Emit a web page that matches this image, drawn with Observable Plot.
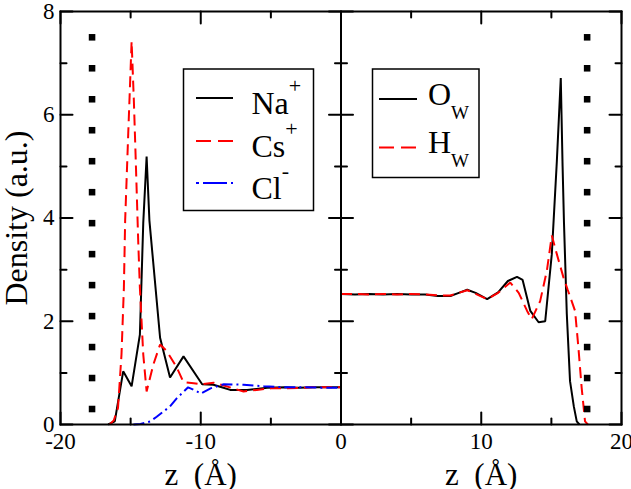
<!DOCTYPE html>
<html><head><meta charset="utf-8">
<script src="https://cdn.jsdelivr.net/npm/d3@7"></script>
<script src="https://cdn.jsdelivr.net/npm/@observablehq/plot@0.6"></script>
<style>
body{margin:0;background:#fff;}
#wrap{position:relative;width:631px;height:489px;overflow:hidden;background:#fff;}
#wrap svg{position:absolute;left:0;top:0;}
#wrap svg, #wrap svg text, #wrap svg tspan{font-family:"Liberation Serif","DejaVu Serif",serif !important;}
</style></head><body><div id="wrap"></div>
<script>
// ---- data ----
const naZ = [-16.6, -16.13, -15.53, -14.93, -14.34, -14.1, -13.86, -13.66, -12.9, -12.19, -11.23, -9.9, -9.1, -8.5, -7.9, -6.7, -5.25, -4.0, -3.0, -2.0, -1.0, 0];
const naV = [0, 0.06, 1.03, 0.74, 1.74, 3.9, 5.19, 3.95, 1.68, 0.91, 1.32, 0.78, 0.77, 0.72, 0.67, 0.67, 0.71, 0.72, 0.71, 0.72, 0.72, 0.72];

const csZ = [-16.5, -16.2, -15.9, -15.65, -15.48, -15.39, -15.17, -14.93, -14.77, -14.62, -14.46, -14.34, -14.1, -13.86, -13.38, -12.9, -12.42, -11.7, -11.23, -10.5, -10.0, -9.08, -8.3, -6.95, -6.0, -5.0, -4.0, -3.0, -2.0, -1.0, 0];
const csV = [0, 0.08, 0.32, 1.36, 2.65, 3.95, 5.64, 7.42, 6.28, 4.99, 3.56, 2.65, 1.36, 0.64, 1.16, 1.55, 1.42, 1.1, 0.82, 0.8, 0.78, 0.81, 0.75, 0.64, 0.67, 0.7, 0.7, 0.71, 0.72, 0.72, 0.72];

const clZ = [-14.8, -14.3, -13.6, -13.14, -12.19, -11.7, -10.9, -10.4, -10.0, -9.3, -8.36, -6.95, -5.5, -4.0, -2.5, -1.0, 0];
const clV = [0, 0.01, 0.06, 0.15, 0.35, 0.51, 0.72, 0.66, 0.6, 0.7, 0.78, 0.77, 0.74, 0.72, 0.72, 0.71, 0.71];

const owZ = [0, 1, 2, 3, 4, 5, 6, 6.9, 7.8, 8.4, 9.0, 9.6, 10.42, 11.2, 11.9, 12.55, 12.95, 13.5, 14.09, 14.56, 15.03, 15.39, 15.67, 15.8, 15.9, 16.1, 16.33, 16.6, 16.81, 17.0];
const owV = [2.53, 2.52, 2.53, 2.52, 2.53, 2.52, 2.52, 2.49, 2.49, 2.55, 2.61, 2.55, 2.43, 2.56, 2.78, 2.86, 2.8, 2.2, 1.98, 2.0, 3.3, 5.1, 6.71, 5.0, 3.9, 2.14, 0.84, 0.35, 0.06, 0];

const hwZ = [0, 1, 2, 3, 4, 5, 6, 6.9, 7.8, 8.4, 9.0, 9.6, 10.42, 11.2, 12.07, 12.67, 13.27, 13.6, 14.2, 14.68, 15.03, 15.39, 15.86, 16.15, 16.69, 16.93, 17.16, 17.4, 17.6];
const hwV = [2.53, 2.53, 2.52, 2.53, 2.52, 2.53, 2.52, 2.5, 2.5, 2.55, 2.6, 2.53, 2.43, 2.55, 2.75, 2.55, 2.2, 2.04, 2.39, 2.98, 3.66, 3.3, 2.85, 2.62, 2.2, 1.48, 0.71, 0.06, 0];

const wallZ = [-17.75, 17.55];
const wallY = [0.3, 0.9, 1.5, 2.1, 2.7, 3.3, 3.9, 4.5, 5.1, 5.7, 6.3, 6.9, 7.5];

const xMajor = [-20, -10, 0, 10, 20];
const xMinor = [-15, -5, 5, 15];
const yMajor = [0, 2, 4, 6, 8];
const yMinor = [1, 3, 5, 7];
const panels = [[-20, 0], [0, 20]];
const panelBorders = [0];

const xTitle = "z\u00a0\u00a0(Å)";
const yTitle = "Density (a.u.)";

const legendLeft = [
  {key: "Na", main: "Na", script: "+"},
  {key: "Cs", main: "Cs", script: "+"},
  {key: "Cl", main: "Cl", script: "-"}
];
const legendRight = [
  {key: "Ow", main: "O", script: "W"},
  {key: "Hw", main: "H", script: "W"}
];

// ---- styles ----
const FONT = '"Liberation Serif","DejaVu Serif",serif';
const styles = {
  Na: {stroke: "#000000", dash: null},
  Cs: {stroke: "#ff0000", dash: "11,6"},
  Cl: {stroke: "#0000ff", dash: "11,4,2,4"},
  Ow: {stroke: "#000000", dash: null},
  Hw: {stroke: "#ff0000", dash: "11,6"}
};

const rows = (z, v) => z.map((d, i) => ({z: d, v: v[i]}));
const series = {Na: rows(naZ, naV), Cs: rows(csZ, csV), Cl: rows(clZ, clV), Ow: rows(owZ, owV), Hw: rows(hwZ, hwV)};
const walls = wallZ.flatMap(z => wallY.map(y => ({z, y})));

const lineMark = k => Plot.line(series[k], {x: "z", y: "v", stroke: styles[k].stroke, strokeWidth: 2,
  strokeDasharray: styles[k].dash || undefined, strokeLinejoin: "miter", strokeLinecap: "butt"});

const tickShape = {draw(context, l) { context.moveTo(0, 0); context.lineTo(0, -l); }};
const vt = (data, opts) => Plot.vector(data, {anchor: "start", shape: tickShape, stroke: "black", strokeWidth: 2, ...opts});
const midMajor = yMajor.flatMap(y => panelBorders.map(b => ({x: b, y})));
const midMinor = yMinor.flatMap(y => panelBorders.map(b => ({x: b, y})));
const titles = panels.map(p => ({x: (p[0] + p[1]) / 2, t: xTitle}));

const chart = Plot.plot({
  width: 631, height: 489,
  marginLeft: 60, marginRight: 10, marginTop: 11, marginBottom: 65,
  x: {domain: [-20, 20], label: null},
  y: {domain: [0, 8], label: null},
  style: {fontFamily: FONT, fontSize: "23px", color: "black", background: "white", overflow: "visible"},
  marks: [
    lineMark("Ow"), lineMark("Hw"),
    lineMark("Na"), lineMark("Cs"), lineMark("Cl"),
    Plot.dot(walls, {x: "z", y: "y", symbol: "square", r: 3.7, fill: "black", stroke: "none"}),
    Plot.frame({stroke: "black", strokeWidth: 2}),
    Plot.ruleX(panelBorders, {stroke: "black", strokeWidth: 2}),
    vt(xMajor, {x: d => d, frameAnchor: "bottom", rotate: 0, length: 12}),
    vt(xMinor, {x: d => d, frameAnchor: "bottom", rotate: 0, length: 6}),
    vt(xMajor, {x: d => d, frameAnchor: "top", rotate: 180, length: 12}),
    vt(xMinor, {x: d => d, frameAnchor: "top", rotate: 180, length: 6}),
    vt(yMajor, {y: d => d, frameAnchor: "left", rotate: 90, length: 12}),
    vt(yMinor, {y: d => d, frameAnchor: "left", rotate: 90, length: 6}),
    vt(yMajor, {y: d => d, frameAnchor: "right", rotate: -90, length: 12}),
    vt(yMinor, {y: d => d, frameAnchor: "right", rotate: -90, length: 6}),
    vt(midMajor, {x: "x", y: "y", rotate: 90, length: 12}),
    vt(midMajor, {x: "x", y: "y", rotate: -90, length: 12}),
    vt(midMinor, {x: "x", y: "y", rotate: 90, length: 6}),
    vt(midMinor, {x: "x", y: "y", rotate: -90, length: 6}),
    Plot.axisX(xMajor, {tickSize: 0, tickPadding: 8, tickFormat: d => String(d), label: null}),
    Plot.axisY(yMajor, {tickSize: 0, tickPadding: 6, tickFormat: d => String(d), label: null}),
    Plot.text([yTitle], {frameAnchor: "left", textAnchor: "middle", lineAnchor: "middle", dx: -44, rotate: -90, fontSize: 32}),
    Plot.text(titles, {x: "x", text: "t", textAnchor: "middle", frameAnchor: "bottom", lineAnchor: "bottom", dy: 60, fontSize: 31})
  ]
});
document.getElementById("wrap").appendChild(chart);

// ---- in-plot legends ----
const ov = d3.select("#wrap").append("svg").attr("width", 631).attr("height", 489)
  .attr("font-family", FONT);
function legend(items, box, lx0, lx1, tx, rowsY, baseOff, scriptDy, scriptSize) {
  ov.append("rect").attr("x", box[0]).attr("y", box[1]).attr("width", box[2]).attr("height", box[3])
    .attr("fill", "white").attr("stroke", "black").attr("stroke-width", 1.5);
  items.forEach((it, i) => {
    const y = rowsY[i], st = styles[it.key];
    ov.append("line").attr("x1", lx0).attr("x2", lx1).attr("y1", y).attr("y2", y)
      .attr("stroke", st.stroke).attr("stroke-width", 2)
      .attr("stroke-dasharray", st.dash === "11,4,2,4" ? "3,4,24,4" : (st.dash ? "15,7" : null));
    const t = ov.append("text").attr("x", tx).attr("y", y + baseOff).attr("font-size", 32).attr("fill", "black");
    t.append("tspan").text(it.main);
    t.append("tspan").attr("dy", scriptDy).attr("font-size", scriptSize).text(it.script);
  });
}
legend(legendLeft, [183.5, 69, 130, 141.5], 196, 233, 251.5, [98, 141, 183], 16, -21, 22);
legend(legendRight, [372.5, 69, 106.5, 108.5], 379, 417, 428, [99, 147.5], 5.5, 14, 19);
</script></body></html>
